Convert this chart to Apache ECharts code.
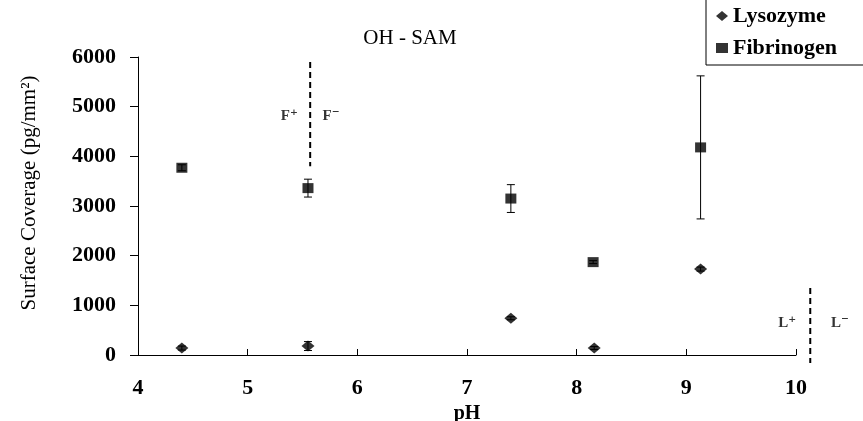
<!DOCTYPE html>
<html>
<head>
<meta charset="utf-8">
<script src="https://cdn.jsdelivr.net/npm/echarts@6/dist/echarts.min.js"></script>
<style>
  html, body { margin: 0; padding: 0; background: #fff; }
  #chart { width: 863px; height: 421px; }
</style>
</head>
<body>
<div id="chart"></div>
<script>
var phLyso = [4.4, 5.55, 7.4, 8.16, 9.13];
var lysozyme = [140, 180, 740, 140, 1730];
var lysoErr = [40, 90, 30, 30, 40];

var phFib = [4.4, 5.55, 7.4, 8.15, 9.13];
var fibrinogen = [3770, 3360, 3150, 1870, 4180];
var fibErr = [60, 180, 280, 30, 1440];

// isoelectric point markers: [x, yTop, yBottom]
var pzcLines = [
  [5.57, 5900, 3800],
  [10.13, 1350, -160]
];
var pointLabels = [
  [5.38, 4800, 'F⁺'], [5.76, 4800, 'F⁻'],
  [9.92, 640, 'L⁺'], [10.4, 640, 'L⁻']
];

var serif = '"Liberation Serif", "DejaVu Serif", serif';

function pairs(xs, ys) {
  return xs.map(function (x, i) { return [x, ys[i]]; });
}
function errData(xs, ys, es) {
  return xs.map(function (x, i) { return [x, ys[i] - es[i], ys[i] + es[i]]; });
}

function renderErr(params, api) {
  var lo = api.coord([api.value(0), api.value(1)]);
  var hi = api.coord([api.value(0), api.value(2)]);
  var w = 4;
  var st = { stroke: '#000', lineWidth: 1 };
  return {
    type: 'group',
    children: [
      { type: 'line', shape: { x1: lo[0], y1: lo[1], x2: hi[0], y2: hi[1] }, style: st },
      { type: 'line', shape: { x1: lo[0] - w, y1: lo[1], x2: lo[0] + w, y2: lo[1] }, style: st },
      { type: 'line', shape: { x1: hi[0] - w, y1: hi[1], x2: hi[0] + w, y2: hi[1] }, style: st }
    ]
  };
}

function renderDash(params, api) {
  var top = api.coord([api.value(0), api.value(1)]);
  var bot = api.coord([api.value(0), api.value(2)]);
  return {
    type: 'line',
    shape: { x1: top[0], y1: top[1], x2: bot[0], y2: bot[1] },
    style: { stroke: '#000', lineWidth: 2, lineDash: [6, 4] }
  };
}

var myChart = echarts.init(document.getElementById('chart'));

var option = {
  animation: false,
  title: {
    text: 'OH - SAM',
    left: 405,
    top: 23,
    textAlign: 'center',
    textStyle: { fontFamily: serif, fontSize: 21, fontWeight: 'normal', color: '#000' }
  },
  legend: {
    orient: 'vertical',
    left: 706,
    top: -1,
    padding: [6, 30, 6, 10],
    itemGap: 10,
    itemWidth: 12,
    itemHeight: 10,
    borderColor: '#000',
    borderWidth: 1,
    data: ['Lysozyme', 'Fibrinogen'],
    textStyle: { fontFamily: serif, fontSize: 22, fontWeight: 'bold', color: '#000' }
  },
  grid: { left: 138, right: 67, top: 57, bottom: 66, outerBoundsMode: 'none', containLabel: false },
  xAxis: {
    type: 'value',
    min: 4,
    max: 10,
    interval: 1,
    name: 'pH',
    nameLocation: 'middle',
    nameGap: 44,
    nameTextStyle: { fontFamily: serif, fontSize: 20, fontWeight: 'bold', color: '#000' },
    splitLine: { show: false },
    axisLine: { lineStyle: { color: '#000', width: 1 } },
    axisTick: { inside: true, length: 6, lineStyle: { color: '#000' } },
    axisLabel: { fontFamily: serif, fontSize: 22, fontWeight: 'bold', color: '#000', margin: 22 }
  },
  yAxis: {
    type: 'value',
    min: 0,
    max: 6000,
    interval: 1000,
    name: 'Surface Coverage (pg/mm²)',
    nameLocation: 'middle',
    nameGap: 98,
    nameTextStyle: { fontFamily: serif, fontSize: 21, color: '#000', padding: [0, 0, 0, 26] },
    splitLine: { show: false },
    axisLine: { show: true, lineStyle: { color: '#000', width: 1 } },
    axisTick: { show: true, length: 8, lineStyle: { color: '#000' } },
    axisLabel: {
      fontFamily: serif, fontSize: 22, fontWeight: 'bold', color: '#000', margin: 22,
      formatter: function (v) { return String(v); }
    }
  },
  series: [
    {
      name: 'Lysozyme',
      type: 'scatter',
      symbol: 'diamond',
      symbolSize: [13, 11],
      itemStyle: { color: '#000' },
      data: pairs(phLyso, lysozyme),
      z: 3
    },
    {
      name: 'Fibrinogen',
      type: 'scatter',
      symbol: 'rect',
      symbolSize: [11, 10],
      itemStyle: { color: '#000' },
      data: pairs(phFib, fibrinogen),
      z: 3
    },
    {
      name: 'lysoErr',
      type: 'custom',
      renderItem: renderErr,
      encode: { x: 0, y: [1, 2] },
      data: errData(phLyso, lysozyme, lysoErr),
      z: 2
    },
    {
      name: 'fibErr',
      type: 'custom',
      renderItem: renderErr,
      encode: { x: 0, y: [1, 2] },
      data: errData(phFib, fibrinogen, fibErr),
      z: 2
    },
    {
      name: 'pzc',
      type: 'custom',
      clip: false,
      silent: true,
      renderItem: renderDash,
      encode: { x: 0, y: [1, 2] },
      data: pzcLines
    },
    {
      name: 'labels',
      type: 'scatter',
      symbolSize: 0,
      clip: false,
      silent: true,
      data: pointLabels.map(function (p) { return { value: [p[0], p[1]], name: p[2] }; }),
      label: {
        show: true,
        position: 'inside',
        formatter: '{b}',
        fontFamily: serif,
        fontSize: 15,
        fontWeight: 'bold',
        color: '#000'
      }
    }
  ]
};

myChart.setOption(option);
</script>
</body>
</html>
